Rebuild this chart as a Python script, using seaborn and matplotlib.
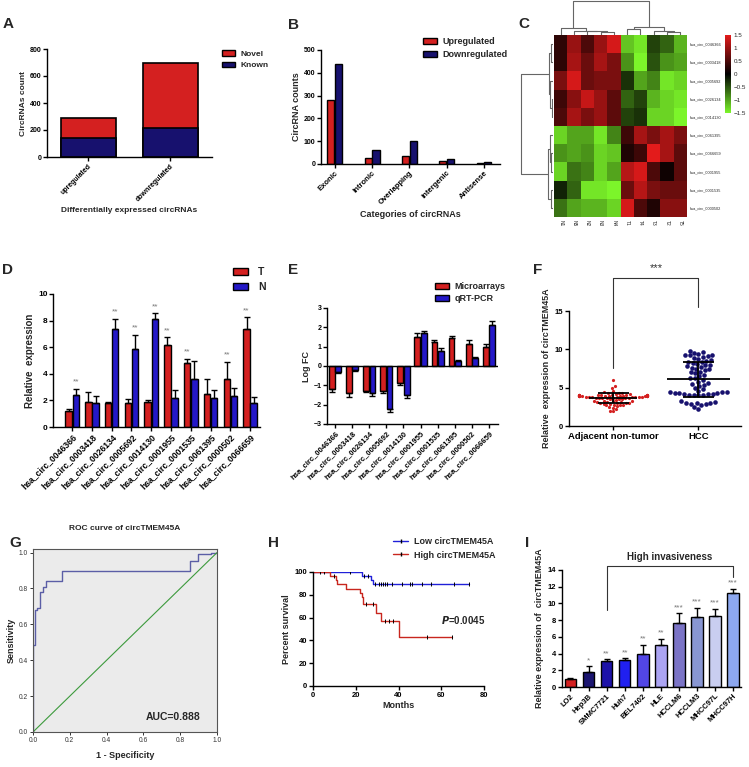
import numpy as np
import pandas as pd
import matplotlib
matplotlib.use("Agg")
import matplotlib.pyplot as plt
import seaborn as sns
from matplotlib.colors import LinearSegmentedColormap
from matplotlib.lines import Line2D
from matplotlib.patches import Patch

# ---------------- data ----------------
# A: differentially expressed circRNAs
a_groups = ["upregulated", "downregulated"]
a_known = [140, 218]
a_total = [290, 693]

# B: categories of circRNAs
b_cats = ["Exonic", "Intronic", "Overlapping", "intergenic", "Antisense"]
b_up = [281, 28, 37, 12, 4]
b_down = [437, 62, 101, 21, 7]

# C: heatmap (z-scores), rows/cols already in cluster order
c_rows = ["hsa_circ_0046366", "hsa_circ_0003418", "hsa_circ_0005692", "hsa_circ_0026134",
          "hsa_circ_0014130", "hsa_circ_0061395", "hsa_circ_0066659", "hsa_circ_0001955",
          "hsa_circ_0001535", "hsa_circ_0000502"]
c_cols = ["N1", "N5", "N2", "N3", "N4", "T1", "T4", "T3", "T2", "T5"]
c_vals = [
    [0.3, 1.0, 0.5, 1.0, 1.4, -1.2, -1.4, -0.4, -0.6, -1.1],
    [0.3, 1.1, 0.7, 1.1, 0.8, -0.9, -1.5, -0.5, -0.9, -1.0],
    [0.8, 1.4, 0.7, 0.8, 0.8, -0.3, -1.0, -0.8, -1.4, -1.3],
    [0.4, 0.9, 1.3, 1.0, 0.6, -0.6, -0.4, -1.1, -1.3, -1.4],
    [0.5, 1.1, 0.8, 1.0, 0.6, -0.4, -0.3, -1.3, -1.3, -1.5],
    [-1.3, -1.0, -1.0, -1.4, -0.8, 0.4, 1.1, 0.8, 1.1, 0.8],
    [-0.9, -1.0, -0.9, -1.3, -1.2, 0.2, 0.4, 1.5, 1.1, 0.6],
    [-1.3, -0.7, -0.8, -1.3, -1.0, 1.2, 1.4, 0.5, 0.1, 0.6],
    [-0.2, -0.6, -1.4, -1.4, -1.5, 0.7, 1.2, 0.8, 0.7, 0.7],
    [-0.7, -1.0, -1.1, -1.1, -1.3, 1.4, 0.5, 0.2, 0.9, 0.9],
]
# merges: (node a, node b, height) ; new nodes numbered from n upwards
c_col_links = [(3, 4, 3.0), (2, 10, 3.5), (1, 11, 4.0), (0, 12, 7.0), (5, 6, 6.0),
               (8, 9, 3.0), (7, 15, 4.0), (14, 16, 7.5), (13, 17, 33.0)]
c_row_links = [(0, 1, 2.0), (3, 4, 1.5), (2, 11, 3.0), (10, 12, 4.0), (6, 7, 2.0),
               (5, 14, 3.5), (8, 9, 2.0), (15, 16, 5.0), (13, 17, 32.0)]

# D: qRT-PCR validation (T vs N)
circ_ids = ["hsa_circ_0046366", "hsa_circ_0003418", "hsa_circ_0026134", "hsa_circ_0005692",
            "hsa_circ_0014130", "hsa_circ_0001955", "hsa_circ_0001535", "hsa_circ_0061395",
            "hsa_circ_0000502", "hsa_circ_0066659"]
d_t = [1.2, 1.9, 1.8, 1.8, 1.9, 6.2, 4.8, 2.5, 3.6, 7.4]
d_t_err = [0.15, 0.7, 0.05, 0.3, 0.1, 0.55, 0.35, 1.1, 1.3, 0.85]
d_n = [2.4, 1.8, 7.4, 5.9, 8.1, 2.2, 3.6, 2.2, 2.3, 1.8]
d_n_err = [0.45, 0.5, 0.75, 1.05, 0.45, 0.6, 1.4, 0.55, 0.6, 0.45]
d_sig = ["**", "", "**", "**", "**", "**", "**", "", "**", "**"]

# E: log FC, microarrays vs qRT-PCR
e_micro = [-1.2, -1.4, -1.3, -1.3, -0.9, 1.5, 1.25, 1.45, 1.15, 1.0]
e_micro_err = [0.15, 0.2, 0.05, 0.12, 0.1, 0.2, 0.1, 0.1, 0.2, 0.12]
e_qpcr = [-0.3, -0.2, -1.4, -2.2, -1.5, 1.7, 0.8, 0.25, 0.4, 2.1]
e_qpcr_err = [0.05, 0.05, 0.15, 0.2, 0.15, 0.1, 0.15, 0.05, 0.05, 0.25]

# F: circTMEM45A expression in tissues
f_adj = [6.0, 5.2, 5.0, 4.6, 4.4, 4.3, 4.3, 4.25, 4.2, 4.15, 4.1, 4.1,
         4.05, 4.05, 4.0, 4.0, 4.0, 4.0, 4.0, 4.0, 4.0, 4.0, 3.95, 3.95, 3.95, 3.95,
         3.9, 3.9, 3.9, 3.9, 3.9, 3.9, 3.85, 3.85, 3.85, 3.85,
         3.8, 3.8, 3.8, 3.8, 3.8, 3.75, 3.75, 3.75,
         3.7, 3.7, 3.7, 3.7, 3.6, 3.6, 3.6, 3.5, 3.5, 3.5, 3.4, 3.3,
         3.2, 3.2, 3.2, 3.1, 3.1, 3.1, 3.0, 3.0, 3.0, 3.0,
         2.9, 2.9, 2.8, 2.8, 2.7, 2.7, 2.6, 2.5, 2.4, 2.2, 2.0, 1.9]
f_hcc = [9.8, 9.7, 9.5, 9.4, 9.3, 9.2, 9.2, 9.1, 9.0, 8.9, 8.8, 8.6, 8.5, 8.4, 8.3,
         8.2, 8.1, 8.0, 7.9, 7.8, 7.7, 7.6, 7.5, 7.4, 7.3, 7.1, 7.0, 6.9, 6.7, 6.5,
         6.3, 6.2, 6.0, 5.8, 5.6, 5.5, 5.4, 5.2, 5.0, 4.8, 4.6, 4.5, 4.4, 4.4, 4.3,
         4.3, 4.3, 4.2, 4.2, 4.2, 4.1, 4.1, 4.0, 4.0, 3.2, 3.1, 3.0, 3.0, 3.0, 2.9,
         2.9, 2.7, 2.5, 2.2]
f_groups = ["Adjacent non-tumor", "HCC"]

# G: ROC curve vertices (steps-pre)
roc_fpr = [0.0, 0.009, 0.022, 0.04, 0.055, 0.069, 0.16, 0.851, 0.896, 0.967, 1.0]
roc_tpr = [0.0, 0.485, 0.68, 0.69, 0.78, 0.81, 0.84, 0.90, 0.955, 0.99, 1.0]
roc_auc = 0.888

# H: Kaplan-Meier
low_t = [0, 22.7, 27.2, 28.0, 73.0]
low_s = [100, 96.4, 92.9, 89.3, 89.3]
low_cens = [3.1, 5.0, 17.2, 23.8, 25.8, 28.9, 30.9, 32.0, 32.8, 33.9, 34.8, 37.0,
            41.7, 45.3, 46.1, 50.8, 55.0, 66.1, 73.1]
high_t = [0, 7.8, 10.6, 11.3, 15.6, 21.9, 22.7, 23.5, 29.7, 31.7, 40.0, 65.0]
high_s = [100, 96.4, 92.9, 89.3, 85.2, 81.5, 78.0, 71.5, 64.3, 57.1, 42.9, 42.9]
high_cens = [9.8, 25.0, 28.1, 33.9, 35.5, 37.2, 53.1, 65.0]

# I: cell lines
i_cells = ["LO2", "Hep3B", "SMMC7721", "Huh7", "BEL7402", "HLE", "HCCLM6", "HCCLM3",
           "MHCC97L", "MHCC97H"]
i_vals = [1.0, 1.8, 3.1, 3.2, 4.0, 5.0, 7.7, 8.35, 8.5, 11.3]
i_err = [0.1, 0.7, 0.2, 0.25, 1.05, 0.8, 1.1, 1.15, 0.85, 0.45]
i_sig = ["", "*", "**", "**", "**", "**", "***", "***", "***", "***"]
i_colors = ["#D42020", "#1B1570", "#1D12A8", "#2020F0", "#5246E6", "#ABA4F2",
            "#7B74C6", "#8896D2", "#C9CEF0", "#8DA8F0"]

RED = "#D42020"
NAVY = "#17116E"
BLUE = "#2418C8"

# ---------------- figure ----------------
sns.set_theme(style="ticks")
plt.rcParams["font.family"] = ["Liberation Sans", "DejaVu Sans"]
plt.rcParams["font.weight"] = "bold"
plt.rcParams["axes.labelweight"] = "bold"
plt.rcParams["axes.linewidth"] = 1.0

W, H = 749, 767
fig = plt.figure(figsize=(W / 100, H / 100), dpi=100)


def px_ax(x0, y0, x1, y1):
    return fig.add_axes([x0 / W, 1 - y1 / H, (x1 - x0) / W, (y1 - y0) / H])


def fig_pt(x, y):
    return (x / W, 1 - y / H)


def px_text(x, y, s, **kw):
    fig.text(x / W, 1 - y / H, s, **kw)


def prism(ax, fs=5):
    sns.despine(ax=ax)
    for s in ["left", "bottom"]:
        ax.spines[s].set_color("black")
        ax.spines[s].set_linewidth(1.0)
    ax.tick_params(direction="out", length=3, width=1, labelsize=fs, pad=1, colors="black")


def add_legend(handles, x, y, fs, hl=1.6, hh=0.7, tp=0.6, ls=0.45):
    fig.legend(handles=handles, loc="upper left", bbox_to_anchor=fig_pt(x, y),
               frameon=False, fontsize=fs, borderpad=0, borderaxespad=0,
               handlelength=hl, handleheight=hh, handletextpad=tp, labelspacing=ls)


def rot_labels(ax, fs):
    for t in ax.get_xticklabels():
        t.set_rotation(45)
        t.set_ha("right")
        t.set_rotation_mode("anchor")
        t.set_fontsize(fs)


def one_sided_err(ax, container, vals, errs):
    xs = [p.get_x() + p.get_width() / 2 for p in container]
    v = np.array(vals)
    e = np.array(errs)
    lower = np.where(v < 0, e, 0)
    upper = np.where(v >= 0, e, 0)
    ax.errorbar(xs, v, yerr=[lower, upper], fmt="none", ecolor="black",
                elinewidth=1, capsize=2, capthick=1)
    return xs


for lab, x, y in [("A", 3, 24), ("B", 288, 25), ("C", 518, 24), ("D", 2, 270),
                  ("E", 288, 270), ("F", 533, 270), ("G", 9, 543), ("H", 268, 543),
                  ("I", 525, 543)]:
    px_text(x, y, lab, fontsize=11, fontweight="bold", va="center", ha="left")

# ---- A ----
axA = px_ax(47, 49, 212, 157)
sns.barplot(x=a_groups, y=a_total, color=RED, width=0.67, saturation=1,
            edgecolor="black", linewidth=1.2, ax=axA)
sns.barplot(x=a_groups, y=a_known, color=NAVY, width=0.67, saturation=1,
            edgecolor="black", linewidth=1.2, ax=axA)
axA.set_xlim(-0.5, 1.51)
axA.set_ylim(0, 800)
axA.set_yticks([0, 200, 400, 600, 800])
prism(axA, 5)
rot_labels(axA, 5)
axA.set_ylabel("CircRNAs count", fontsize=6, labelpad=2)
axA.set_xlabel("Differentially expressed circRNAs", fontsize=6, labelpad=3)
add_legend([Patch(facecolor=RED, edgecolor="black", label="Novel"),
            Patch(facecolor=NAVY, edgecolor="black", label="Known")], 222, 50, 6)

# ---- B ----
dfB = pd.DataFrame({"cat": b_cats * 2, "count": b_up + b_down,
                    "grp": ["Upregulated"] * len(b_cats) + ["Downregulated"] * len(b_cats)})
axB = px_ax(321, 50, 500, 164)
sns.barplot(data=dfB, x="cat", y="count", hue="grp", palette=[RED, NAVY], width=0.42,
            gap=0.1, saturation=1, edgecolor="black", linewidth=1, legend=False, ax=axB)
axB.set_xlim(-0.37, 4.43)
axB.set_ylim(0, 500)
axB.set_yticks([0, 100, 200, 300, 400, 500])
prism(axB, 5)
rot_labels(axB, 5.5)
axB.set_ylabel("CircRNA counts", fontsize=6.5, labelpad=2)
axB.set_xlabel("Categories of circRNAs", fontsize=6.5, labelpad=3)
add_legend([Patch(facecolor=RED, edgecolor="black", label="Upregulated"),
            Patch(facecolor=NAVY, edgecolor="black", label="Downregulated")], 423, 37, 6.5)

# ---- C ----
cmap_rg = LinearSegmentedColormap.from_list("rg", ["#7CF52A", "#000000", "#E31B1B"])
axC = px_ax(554, 35, 687, 217)
axCb = px_ax(725, 35, 731, 113)
sns.heatmap(np.array(c_vals), cmap=cmap_rg, vmin=-1.5, vmax=1.5, ax=axC, cbar_ax=axCb,
            xticklabels=c_cols, yticklabels=c_rows,
            cbar_kws={"ticks": [1.5, 1, 0.5, 0, -0.5, -1, -1.5]})
axC.yaxis.tick_right()
axC.tick_params(length=0, pad=2)
axC.set_yticklabels(c_rows, rotation=0, fontsize=2.8, fontweight="normal")
axC.set_xticklabels(c_cols, rotation=-90, fontsize=3.5, fontweight="normal")
axCb.set_yticklabels(["1.5", "1", "0.5", "0", "\u22120.5", "\u22121", "\u22121.5"],
                     fontsize=4.5, fontweight="normal")
axCb.tick_params(length=0, pad=2)
for s in axCb.spines.values():
    s.set_visible(False)


def draw_dendro(ax, links, n, top):
    pos = {i: i + 0.5 for i in range(n)}
    hgt = {i: 0.0 for i in range(n)}
    for k, (a, b, h) in enumerate(links):
        xs = [pos[a], pos[a], pos[b], pos[b]]
        ys = [hgt[a], h, h, hgt[b]]
        if top:
            ax.plot(xs, ys, color="#666666", lw=0.8)
        else:
            ax.plot(ys, xs, color="#666666", lw=0.8)
        pos[n + k] = (pos[a] + pos[b]) / 2
        hgt[n + k] = h
    ax.set_axis_off()


axCt = px_ax(554, 0, 687, 35)
draw_dendro(axCt, c_col_links, len(c_cols), True)
axCt.set_xlim(0, len(c_cols))
axCt.set_ylim(0, 34)
axCl = px_ax(519, 35, 553, 217)
draw_dendro(axCl, c_row_links, len(c_rows), False)
axCl.set_xlim(34, 0)
axCl.set_ylim(len(c_rows), 0)

# ---- D ----
dfD = pd.DataFrame({"id": circ_ids * 2, "val": d_t + d_n,
                    "grp": ["T"] * len(circ_ids) + ["N"] * len(circ_ids)})
axD = px_ax(53, 294, 260, 427)
sns.barplot(data=dfD, x="id", y="val", hue="grp", palette=[RED, BLUE], width=0.72, gap=0.1,
            saturation=1, edgecolor="black", linewidth=1, legend=False, ax=axD)
xs_t = one_sided_err(axD, axD.containers[0], d_t, d_t_err)
xs_n = one_sided_err(axD, axD.containers[1], d_n, d_n_err)
for i, s in enumerate(d_sig):
    if s:
        if d_t[i] + d_t_err[i] >= d_n[i] + d_n_err[i]:
            xx, yy = xs_t[i], d_t[i] + d_t_err[i]
        else:
            xx, yy = xs_n[i], d_n[i] + d_n_err[i]
        axD.text(xx, yy + 0.25, s, ha="center", va="bottom", fontsize=6, color="#777777",
                 fontweight="normal")
axD.set_xlim(-0.97, 9.5)
axD.set_ylim(0, 10)
axD.set_yticks([0, 2, 4, 6, 8, 10])
prism(axD, 6)
rot_labels(axD, 6.2)
axD.set_xlabel("")
axD.set_ylabel("Relative  expression", fontsize=7, labelpad=2)
add_legend([Patch(facecolor=RED, edgecolor="black", label="T"),
            Patch(facecolor=BLUE, edgecolor="black", label="N")], 233, 267, 7.5,
           hl=1.4, hh=0.65, tp=1.0, ls=0.5)

# ---- E ----
dfE = pd.DataFrame({"id": circ_ids * 2, "val": e_micro + e_qpcr,
                    "grp": ["Microarrays"] * len(circ_ids) + ["qRT-PCR"] * len(circ_ids)})
axE = px_ax(327, 308, 498, 424)
sns.barplot(data=dfE, x="id", y="val", hue="grp", palette=[RED, BLUE], width=0.75, gap=0.1,
            saturation=1, edgecolor="black", linewidth=1, legend=False, ax=axE)
one_sided_err(axE, axE.containers[0], e_micro, e_micro_err)
one_sided_err(axE, axE.containers[1], e_qpcr, e_qpcr_err)
axE.axhline(0, color="black", lw=1)
axE.set_xlim(-0.47, 9.53)
axE.set_ylim(-3, 3)
axE.set_yticks([-3, -2, -1, 0, 1, 2, 3])
prism(axE, 5)
rot_labels(axE, 5.5)
axE.set_xlabel("")
axE.set_ylabel("Log FC", fontsize=6.5, labelpad=2)
add_legend([Patch(facecolor=RED, edgecolor="black", label="Microarrays"),
            Patch(facecolor=BLUE, edgecolor="black", label="qRT-PCR")], 435, 282, 6.5,
           hl=1.5, hh=0.7, tp=0.7, ls=0.35)

# ---- F ----
axF = px_ax(569, 311, 741, 426)
sns.swarmplot(x=[f_groups[0]] * len(f_adj), y=f_adj, order=f_groups, color=RED, size=2.3,
              ax=axF)
sns.swarmplot(x=[f_groups[1]] * len(f_hcc), y=f_hcc, order=f_groups, color=NAVY, size=3.3,
              ax=axF)
for i, (vals, mw) in enumerate([(f_adj, 0.28), (f_hcc, 0.37)]):
    m, sd = np.mean(vals), np.std(vals, ddof=1)
    axF.hlines(m, i - mw, i + mw, color="black", lw=1.3, zorder=5)
    axF.hlines([m - sd, m + sd], i - 0.18, i + 0.18, color="black", lw=1.3, zorder=5)
    axF.vlines(i, m - sd, m + sd, color="black", lw=1.3, zorder=5)
axF.plot([0, 0, 1, 1], [7.6, 19.3, 19.3, 15.5], color="#333333", lw=0.8, clip_on=False)
axF.text(0.5, 20.0, "***", ha="center", va="bottom", fontsize=8, color="#333333",
         fontweight="normal")
axF.set_xlim(-0.52, 1.5)
axF.set_ylim(0, 15)
axF.set_yticks([0, 5, 10, 15])
prism(axF, 5.5)
axF.tick_params(axis="x", labelsize=6.8)
axF.set_ylabel("Relative  expression of circTMEM45A", fontsize=6.5, labelpad=3)

# ---- G ----
axG = px_ax(33, 549, 217, 732)
axG.set_facecolor("#EBEBEB")
sns.lineplot(x=roc_fpr, y=roc_tpr, estimator=None, drawstyle="steps-pre", color="#5B5EA6",
             lw=1.0, ax=axG)
axG.axline((0, 0), (1, 1), color="#3C9A3C", lw=0.8)
axG.set_xlim(0, 1)
axG.set_ylim(0, 1.02)
axG.set_xticks([0, 0.2, 0.4, 0.6, 0.8, 1.0])
axG.set_yticks([0, 0.2, 0.4, 0.6, 0.8, 1.0])
axG.set_xticklabels(["0.0", "0.2", "0.4", "0.6", "0.8", "1.0"], fontweight="normal")
axG.set_yticklabels(["0.0", "0.2", "0.4", "0.6", "0.8", "1.0"], fontweight="normal")
axG.tick_params(direction="out", length=2.5, width=0.7, labelsize=4.8, pad=1,
                colors="#333333")
for s in axG.spines.values():
    s.set_color("#555555")
    s.set_linewidth(0.8)
axG.set_title("ROC curve of circTMEM45A", fontsize=6, fontweight="bold", pad=14)
axG.set_xlabel("1 - Specificity", fontsize=6.5, labelpad=5)
axG.set_ylabel("Sensitivity", fontsize=6.5, labelpad=2)
axG.text(0.61, 0.08, f"AUC={roc_auc:.3f}", fontsize=7.5, fontweight="bold",
         transform=axG.transAxes, va="center")

# ---- H ----
axH = px_ax(313, 572, 484, 686)
LOW_C = "#2020D8"
HIGH_C = "#C8261E"
sns.lineplot(x=low_t, y=low_s, estimator=None, drawstyle="steps-post", color=LOW_C, lw=1.0,
             ax=axH)
sns.lineplot(x=high_t, y=high_s, estimator=None, drawstyle="steps-post", color=HIGH_C,
             lw=1.0, ax=axH)
for times, surv, cens in [(low_t, low_s, low_cens), (high_t, high_s, high_cens)]:
    idx = np.searchsorted(times, cens, side="right") - 1
    axH.plot(cens, np.array(surv)[idx], "|", color="black", ms=3, mew=0.7)
axH.set_xlim(0, 80)
axH.set_ylim(0, 100)
axH.set_xticks([0, 20, 40, 60, 80])
axH.set_yticks([0, 20, 40, 60, 80, 100])
prism(axH, 5.5)
axH.set_xlabel("Months", fontsize=6.5, labelpad=2)
axH.set_ylabel("Percent survival", fontsize=6.5, labelpad=3)
axH.text(0.75, 0.58, "$\\bfit{P}$=0.0045", fontsize=7, fontweight="bold",
         transform=axH.transAxes, va="center")
add_legend([Line2D([0], [0], color=LOW_C, lw=1, marker="|", mec="black", ms=3,
                   label="Low circTMEM45A"),
            Line2D([0], [0], color=HIGH_C, lw=1, marker="|", mec="black", ms=3,
                   label="High circTMEM45A")], 393, 537, 6.5, hl=1.7, tp=0.6, ls=0.5)

# ---- I ----
axI = px_ax(562, 570, 741, 687)
sns.barplot(x=i_cells, y=i_vals, hue=i_cells, palette=i_colors, width=0.64, saturation=1,
            edgecolor="black", linewidth=1, legend=False, ax=axI)
ix = np.arange(len(i_cells))
axI.errorbar(ix, i_vals, yerr=[np.zeros(len(i_err)), i_err], fmt="none", ecolor="black",
             elinewidth=1, capsize=2, capthick=1)
for x, v, e, s in zip(ix, i_vals, i_err, i_sig):
    if s:
        axI.text(x, v + e + 0.25, s, ha="center", va="bottom", fontsize=6, color="#777777",
                 fontweight="normal")
axI.plot([2, 2, 9, 9], [9.2, 14.5, 14.5, 13.2], color="#333333", lw=0.8, clip_on=False)
axI.text(5.5, 15.6, "High invasiveness", ha="center", va="center", fontsize=7)
axI.set_xlim(-0.47, 9.44)
axI.set_ylim(0, 14)
axI.set_yticks([0, 2, 4, 6, 8, 10, 12, 14])
prism(axI, 5.5)
rot_labels(axI, 5.5)
axI.set_ylabel("Relative expression of  circTMEM45A", fontsize=6.5, labelpad=3)

fig.savefig("out.png", dpi=100)
